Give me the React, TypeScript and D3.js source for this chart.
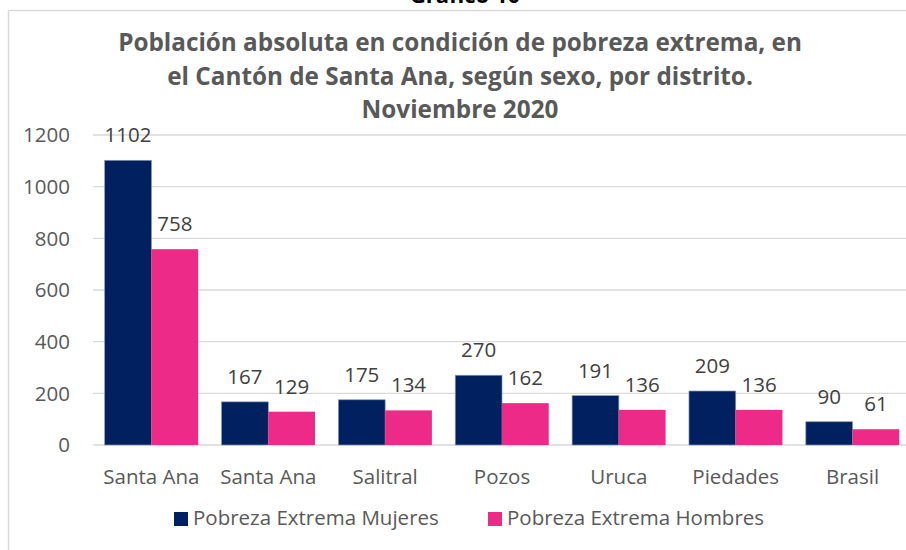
import * as d3 from "d3";

// datos del gráfico
const distritos = ["Santa Ana", "Santa Ana", "Salitral", "Pozos", "Uruca", "Piedades", "Brasil"];
const mujeres = [1102, 167, 175, 270, 191, 209, 90];
const hombres = [758, 129, 134, 162, 136, 136, 61];
const yTicks = [0, 200, 400, 600, 800, 1000, 1200];
const series = ["Pobreza Extrema Mujeres", "Pobreza Extrema Hombres"];
const colores = ["#002060", "#EE2A89"];

const W = 906;
const H = 550;
const FONT = "'Open Sans', sans-serif";
const FS = 20.5;

export default function App() {
  const idx = distritos.map((_, i) => i);
  const x = d3.scaleBand<number>().domain(idx).range([93, 911]).paddingInner(0.2).paddingOuter(0.1);
  const inner = d3.scaleBand<number>().domain([0, 1]).range([0, x.bandwidth()]);
  const y = d3.scaleLinear().domain([0, 1200]).range([445, 135]);

  const values = [mujeres, hombres];

  return (
    <div style={{ position: "absolute", left: 0, top: 0 }}>
      <svg width={W} height={H} style={{ display: "block", background: "#fff" }}>
        {/* borde del área del gráfico */}
        <line x1={8.5} x2={W} y1={10.5} y2={10.5} stroke="#d9d9d9" strokeWidth={1.5} />
        <line x1={8.5} x2={8.5} y1={10.5} y2={H} stroke="#d9d9d9" strokeWidth={1.5} />

        <text x={465} y={3} textAnchor="middle" fontFamily={FONT} fontWeight="bold" fontSize={22} fill="#000">
          Gráfico 10
        </text>

        <g fontFamily={FONT} fontWeight="bold" fontSize={24.3} fill="#595959" textAnchor="middle">
          <text x={460} y={51}>Población absoluta en condición de pobreza extrema, en</text>
          <text x={460} y={85}>el Cantón de Santa Ana, según sexo, por distrito.</text>
          <text x={460} y={118}>Noviembre 2020</text>
        </g>

        {/* grilla y eje y */}
        {yTicks.map((t) => (
          <g key={t}>
            <line x1={93} x2={W} y1={y(t)} y2={y(t)} stroke="#d9d9d9" strokeWidth={1.3} />
            <text x={70} y={y(t)} dy="0.35em" textAnchor="end" fontFamily={FONT} fontSize={FS} fill="#595959">
              {t}
            </text>
          </g>
        ))}

        {/* barras */}
        {idx.map((i) => (
          <g key={i} transform={`translate(${x(i)},0)`}>
            {values.map((vals, s) => (
              <g key={s}>
                <rect
                  x={inner(s)}
                  y={y(vals[i])}
                  width={inner.bandwidth()}
                  height={y(0) - y(vals[i])}
                  fill={colores[s]}
                  stroke={s === 0 ? "#8497b0" : "none"}
                  strokeWidth={0.7}
                />
                <text
                  x={(inner(s) ?? 0) + inner.bandwidth() / 2}
                  y={y(vals[i]) - 18}
                  textAnchor="middle"
                  fontFamily={FONT}
                  fontSize={FS}
                  fill="#404040"
                >
                  {vals[i]}
                </text>
              </g>
            ))}
            <text
              x={x.bandwidth() / 2}
              y={484}
              textAnchor="middle"
              fontFamily={FONT}
              fontSize={FS}
              fill="#595959"
            >
              {distritos[i]}
            </text>
          </g>
        ))}

        {/* leyenda */}
        {series.map((s, k) => (
          <g key={s} transform={`translate(${k === 0 ? 174 : 488},512)`}>
            <rect width={14} height={14} fill={colores[k]} />
            <text x={19} y={13} fontFamily={FONT} fontSize={FS} fill="#595959">
              {s}
            </text>
          </g>
        ))}
      </svg>
    </div>
  );
}
